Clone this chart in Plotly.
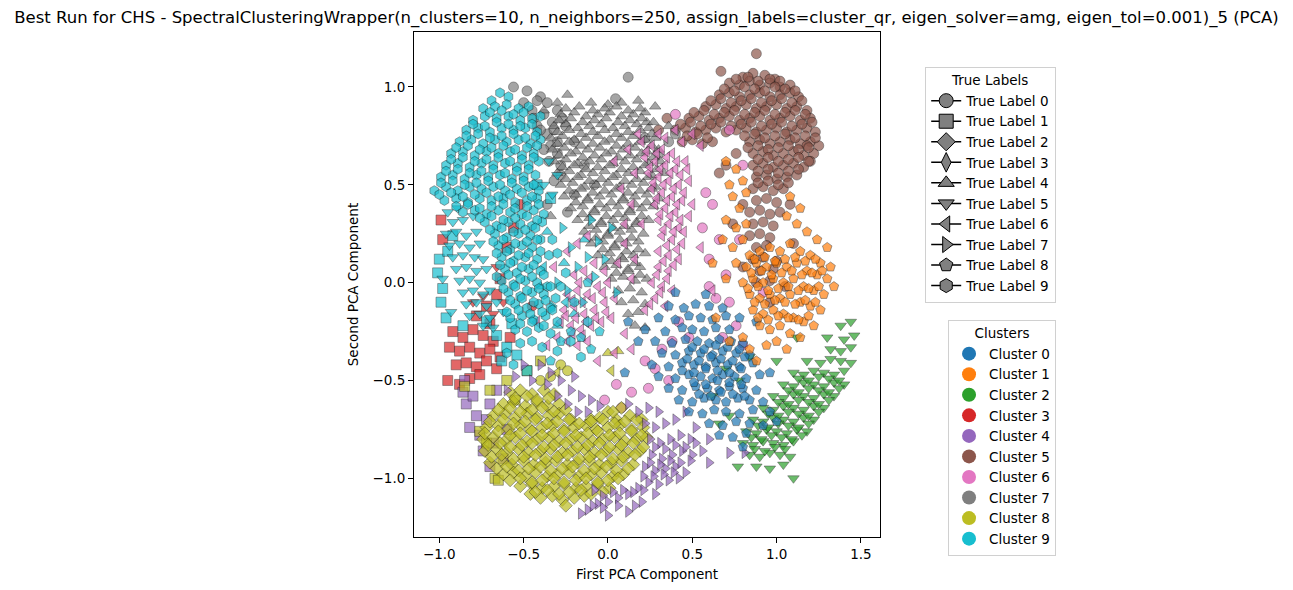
import plotly.graph_objects as go

# tab10 colours, one per cluster
cluster_colors = ['#1f77b4', '#ff7f0e', '#2ca02c', '#d62728', '#9467bd',
                  '#8c564b', '#e377c2', '#7f7f7f', '#bcbd22', '#17becf']
# marker per true label
label_symbols = ['circle', 'square', 'diamond', 'diamond-tall', 'triangle-up',
                 'triangle-down', 'triangle-left', 'triangle-right', 'pentagon', 'hexagon']

# ---- points, grouped by (cluster, true label) ----
c9_l9 = [(-0.64,0.97),(-0.59,0.95),(-0.69,0.93),
 (-0.74,0.89),(-0.67,0.90),(-0.60,0.91),(-0.53,0.89),(-0.47,0.90),
 (-0.80,0.83),(-0.73,0.85),(-0.66,0.84),(-0.59,0.85),(-0.52,0.83),(-0.45,0.84),(-0.40,0.85),
 (-0.84,0.78),(-0.77,0.79),(-0.70,0.77),(-0.63,0.79),(-0.56,0.78),(-0.49,0.79),(-0.42,0.77),
 (-0.88,0.72),(-0.81,0.73),(-0.74,0.71),(-0.67,0.73),(-0.60,0.72),(-0.53,0.73),(-0.46,0.71),(-0.40,0.73),
 (-0.93,0.66),(-0.86,0.67),(-0.79,0.65),(-0.72,0.67),(-0.65,0.66),(-0.58,0.67),(-0.51,0.65),(-0.44,0.66),
 (-0.96,0.60),(-0.89,0.61),(-0.82,0.59),(-0.75,0.61),(-0.68,0.60),(-0.61,0.61),(-0.54,0.59),(-0.47,0.60),(-0.41,0.62),
 (-0.99,0.54),(-0.92,0.55),(-0.85,0.53),(-0.78,0.55),(-0.71,0.54),(-0.64,0.55),(-0.57,0.53),(-0.50,0.54),(-0.43,0.55),
 (-1.03,0.47),(-0.96,0.49),(-0.89,0.47),(-0.82,0.49),(-0.75,0.48),(-0.68,0.49),(-0.61,0.47),(-0.54,0.48),(-0.47,0.49),(-0.41,0.47),
 (-0.97,0.42),(-0.90,0.43),(-0.83,0.41),(-0.76,0.43),(-0.69,0.42),(-0.62,0.43),(-0.55,0.41),(-0.48,0.42),(-0.42,0.43),
 (-0.86,0.36),(-0.79,0.37),(-0.72,0.35),(-0.65,0.37),(-0.58,0.36),(-0.51,0.35),(-0.44,0.37),(-0.38,0.35),
 (-0.73,0.31),(-0.66,0.29),(-0.59,0.31),(-0.52,0.30),(-0.45,0.29),(-0.39,0.31),
 (-0.67,0.25),(-0.60,0.23),(-0.53,0.25),(-0.46,0.24),(-0.40,0.22),
 (-0.65,0.19),(-0.58,0.17),(-0.51,0.19),(-0.45,0.18),
 (-0.63,0.13),(-0.56,0.11),(-0.49,0.13),(-0.42,0.12),(-0.35,0.14),
 (-0.61,0.07),(-0.54,0.05),(-0.47,0.07),(-0.40,0.06),
 (-0.63,0.01),(-0.56,-0.01),(-0.49,0.01),(-0.42,0.00),(-0.36,-0.02),
 (-0.59,-0.05),(-0.52,-0.07),(-0.45,-0.05),(-0.38,-0.06),(-0.31,-0.08),
 (-0.55,-0.11),(-0.48,-0.13),(-0.41,-0.11),(-0.34,-0.13),
 (-0.58,-0.18),(-0.51,-0.17),(-0.44,-0.19),(-0.37,-0.17),(-0.30,-0.20),
 (-0.55,-0.24),(-0.48,-0.25),(-0.41,-0.23),(-0.34,-0.26),
 (-0.52,-0.31),(-0.45,-0.30),(-0.39,-0.33),
 (-0.56,-0.42),(-0.60,-0.36),(-0.30,-0.35),(-0.22,-0.30),(-0.25,0.05),(-0.30,0.15),
 (-0.20,-0.10),(-0.12,-0.20),(-0.33,0.22),(-0.28,-0.02),(-0.16,-0.38)]
c9_l9_core = [(-0.70,0.87),(-0.63,0.88),(-0.56,0.86),(-0.50,0.87),
 (-0.80,0.81),(-0.73,0.80),(-0.66,0.82),(-0.59,0.81),(-0.52,0.80),(-0.45,0.81),
 (-0.84,0.75),(-0.77,0.76),(-0.70,0.74),(-0.63,0.75),(-0.56,0.76),(-0.49,0.74),(-0.43,0.75),
 (-0.90,0.69),(-0.83,0.70),(-0.76,0.68),(-0.69,0.69),(-0.62,0.70),(-0.55,0.68),(-0.48,0.69),(-0.42,0.70),
 (-0.93,0.63),(-0.86,0.64),(-0.79,0.62),(-0.72,0.63),(-0.65,0.64),(-0.58,0.62),(-0.51,0.63),(-0.44,0.64),
 (-0.96,0.57),(-0.89,0.58),(-0.82,0.56),(-0.75,0.57),(-0.68,0.58),(-0.61,0.56),(-0.54,0.57),(-0.47,0.58),
 (-0.99,0.51),(-0.92,0.52),(-0.85,0.50),(-0.78,0.51),(-0.71,0.52),(-0.64,0.50),(-0.57,0.51),(-0.50,0.52),(-0.44,0.50),
 (-1.00,0.45),(-0.93,0.46),(-0.86,0.44),(-0.79,0.45),(-0.72,0.46),(-0.65,0.44),(-0.58,0.45),(-0.51,0.46),(-0.45,0.44),
 (-0.90,0.39),(-0.83,0.40),(-0.76,0.38),(-0.69,0.39),(-0.62,0.40),(-0.55,0.38),(-0.48,0.39),(-0.41,0.40),
 (-0.76,0.33),(-0.69,0.34),(-0.62,0.32),(-0.55,0.33),(-0.48,0.34),(-0.42,0.32),
 (-0.70,0.27),(-0.63,0.28),(-0.56,0.26),(-0.49,0.27),(-0.43,0.28),
 (-0.68,0.21),(-0.62,0.22),(-0.55,0.20),(-0.48,0.21),(-0.42,0.22),
 (-0.66,0.15),(-0.60,0.16),(-0.53,0.14),(-0.47,0.15),(-0.40,0.16),
 (-0.64,0.09),(-0.58,0.10),(-0.51,0.08),(-0.44,0.09),
 (-0.66,0.03),(-0.59,0.04),(-0.52,0.02),(-0.45,0.03),(-0.38,0.04),
 (-0.62,-0.03),(-0.55,-0.02),(-0.48,-0.04),(-0.41,-0.03),(-0.34,-0.02),
 (-0.58,-0.09),(-0.51,-0.08),(-0.44,-0.10),(-0.37,-0.09),
 (-0.60,-0.15),(-0.53,-0.14),(-0.46,-0.16),(-0.39,-0.15),(-0.33,-0.14),
 (-0.52,-0.21),(-0.45,-0.20),(-0.38,-0.22)]
c9_l5 = [(-0.95,0.36),(-0.89,0.38),(-0.92,0.31),(-0.86,0.32),(-0.80,0.34),
 (-0.96,0.25),(-0.90,0.26),(-0.84,0.24),(-0.78,0.26),
 (-0.94,0.19),(-0.88,0.20),(-0.82,0.18),(-0.76,0.20),(-0.79,0.13),
 (-0.92,0.13),(-0.86,0.14),(-0.74,0.12),
 (-0.90,0.07),(-0.84,0.08),(-0.78,0.06),(-0.72,0.07),
 (-0.88,0.01),(-0.82,0.02),(-0.76,0.00),(-0.70,-0.04),
 (-0.86,-0.05),(-0.80,-0.04),(-0.74,-0.06),
 (-0.84,-0.11),(-0.78,-0.10),(-0.72,-0.12),(-0.66,-0.10),
 (-0.82,-0.17),(-0.76,-0.16),(-0.70,-0.18),
 (-0.74,-0.22),(-0.68,-0.23),(-0.93,-0.15),(-0.62,-0.15),(-0.98,0.02),
 (-0.35,0.62),(-0.30,0.55),(-0.33,0.45),(-0.38,0.50)]
c9_l1 = [(-1.00,0.12),(-1.01,0.05),(-0.98,-0.03),(-0.99,-0.10),(-0.95,0.16),(-0.96,-0.18),
 (-0.72,-0.20),(-0.66,-0.27),(-0.60,-0.33),(-0.57,-0.21),(-0.63,-0.40),(-0.54,-0.37),
 (-0.86,-0.22),(-0.42,0.50),(-0.34,0.43),(-0.48,-0.45),(-0.92,0.24)]
c9_l7 = [(-0.30,0.00),(-0.24,-0.04),(-0.18,0.08),(-0.22,0.18),(-0.12,0.13),(-0.06,0.21),(-0.27,0.28),
 (-0.15,-0.10),(-0.08,0.03),(-0.33,-0.12),(0.02,0.28),(-0.10,0.32),(0.05,-0.05),(-0.02,0.12)]
c9_l4 = [(-0.36,0.26),(-0.26,0.10),(-0.20,-0.16),(-0.40,-0.02),(-0.14,0.22),(-0.30,-0.22)]
c9_l8 = [(-0.22,-0.25),(-0.16,-0.28),(-0.10,-0.34),(-0.28,-0.30),(-0.05,-0.25),(-0.34,-0.40),(-0.12,0.00)]
c9_l6 = [(-0.25,-0.10),(-0.38,0.08)]

c3_l1 = [(-0.92,-0.25),(-0.86,-0.28),(-0.80,-0.24),(-0.74,-0.27),(-0.68,-0.30),
 (-0.94,-0.33),(-0.88,-0.35),(-0.82,-0.33),(-0.76,-0.36),(-0.70,-0.34),
 (-0.90,-0.42),(-0.84,-0.41),(-0.78,-0.43),(-0.72,-0.40),(-0.66,-0.44),
 (-0.82,-0.49),(-0.76,-0.47),(-0.64,-0.38),(-0.58,-0.28),(-0.70,-0.21),
 (-0.78,-0.17),(-0.72,-0.12),(-0.66,-0.06),(-0.64,0.02),(-0.99,0.32),(-0.98,0.22),
 (-0.56,0.28),(-0.60,0.18),(-0.95,-0.50),(-0.88,-0.52)]
c3_l5 = [(-0.68,-0.16),(-0.74,-0.07),(-0.62,-0.10),(-0.80,-0.10),(-0.66,0.08)]
c3_l0 = [(-0.52,0.40),(-0.45,-0.12)]

c4_l1 = [(-0.84,-0.62),(-0.80,-0.58),(-0.78,-0.68),(-0.82,-0.74),(-0.76,-0.78),(-0.72,-0.70),
 (-0.70,-0.62),(-0.74,-0.86),(-0.68,-0.82),(-0.86,-0.56),(-0.66,-0.55),(-0.62,-0.90),
 (-0.70,-0.94),(-0.85,-0.50),(-0.60,-0.75)]
c4_l7 = [(-0.40,-0.42),(-0.34,-0.46),(-0.28,-0.50),(-0.22,-0.55),(-0.16,-0.58),(-0.10,-0.60),
 (-0.30,-0.58),(-0.24,-0.62),(-0.18,-0.66),(-0.12,-0.66),(-0.05,-0.63),(-0.36,-0.52),
 (-0.20,-0.48),(-0.45,-0.50),(-0.55,-0.48),(-0.50,-0.42),(-0.60,-0.55),
 (0.12,-0.62),(0.18,-0.66),(0.24,-0.64),(0.30,-0.66),(0.22,-0.72),(0.28,-0.74),(0.34,-0.72),
 (0.40,-0.70),(0.25,-0.80),(0.31,-0.82),(0.37,-0.80),(0.43,-0.78),(0.49,-0.80),(0.26,-0.88),
 (0.32,-0.90),(0.38,-0.88),(0.44,-0.86),(0.50,-0.88),(0.56,-0.86),(0.22,-0.94),(0.28,-0.96),
 (0.34,-0.95),(0.40,-0.94),(0.46,-0.97),(0.24,-1.02),(0.30,-1.03),(0.36,-1.01),(0.42,-1.00),
 (0.18,-1.05),(0.12,-1.08),(0.06,-1.10),(0.00,-1.12),(-0.06,-1.13),(-0.12,-1.16),(-0.16,-1.18),
 (0.00,-1.19),(0.12,-1.17),(0.20,-1.12),(0.28,-1.08),(0.60,-0.92),(0.72,-0.87),(0.81,-0.87),
 (0.52,-0.74),(0.46,-0.66),(-0.08,-1.06),(0.60,-0.80),
 (0.28,-0.84),(0.34,-0.85),(0.40,-0.83),(0.46,-0.84),(0.52,-0.82),
 (0.25,-0.92),(0.31,-0.93),(0.37,-0.91),(0.43,-0.92),(0.49,-0.91),
 (0.21,-0.99),(0.27,-0.99),(0.33,-0.98),(0.39,-0.97),
 (0.09,-1.06),(0.15,-1.07),(0.21,-1.06),(0.03,-1.07),(-0.03,-1.09),
 (-0.09,-1.14),(-0.03,-1.15),(0.06,-1.14),(0.16,-1.14)]

c8_l2 = [(-0.58,-0.56),(-0.52,-0.55),(-0.45,-0.57),(-0.38,-0.55),(-0.32,-0.57),
 (-0.62,-0.62),(-0.56,-0.61),(-0.49,-0.63),(-0.42,-0.61),(-0.36,-0.63),(-0.29,-0.62),(-0.10,-0.70),(0.00,-0.66),(0.08,-0.64),
 (-0.68,-0.68),(-0.61,-0.67),(-0.55,-0.69),(-0.48,-0.67),(-0.42,-0.69),(-0.35,-0.68),(-0.29,-0.67),(-0.22,-0.70),(-0.05,-0.69),(0.05,-0.70),(0.13,-0.68),(0.20,-0.70),
 (-0.72,-0.74),(-0.65,-0.73),(-0.59,-0.75),(-0.52,-0.73),(-0.46,-0.75),(-0.39,-0.74),(-0.33,-0.73),(-0.26,-0.75),(-0.20,-0.74),(-0.13,-0.73),(-0.07,-0.75),(0.00,-0.74),(0.07,-0.73),(0.14,-0.75),(0.21,-0.74),
 (-0.74,-0.80),(-0.68,-0.79),(-0.61,-0.81),(-0.55,-0.79),(-0.48,-0.81),(-0.42,-0.80),(-0.35,-0.79),(-0.29,-0.81),(-0.22,-0.80),(-0.16,-0.79),(-0.09,-0.81),(-0.03,-0.80),(0.04,-0.79),(0.10,-0.81),(0.17,-0.80),(0.23,-0.79),
 (-0.73,-0.86),(-0.66,-0.85),(-0.60,-0.87),(-0.53,-0.85),(-0.47,-0.87),(-0.40,-0.86),(-0.34,-0.85),(-0.27,-0.87),(-0.21,-0.86),(-0.14,-0.85),(-0.08,-0.87),(-0.01,-0.86),(0.06,-0.85),(0.12,-0.87),(0.19,-0.86),
 (-0.70,-0.92),(-0.63,-0.91),(-0.57,-0.93),(-0.50,-0.91),(-0.44,-0.93),(-0.37,-0.92),(-0.31,-0.91),(-0.24,-0.93),(-0.18,-0.92),(-0.11,-0.91),(-0.05,-0.93),(0.02,-0.92),(0.08,-0.91),(0.15,-0.93),
 (-0.62,-0.98),(-0.56,-0.97),(-0.49,-0.99),(-0.43,-0.97),(-0.36,-0.99),(-0.30,-0.98),(-0.23,-0.97),(-0.17,-0.99),(-0.10,-0.98),(-0.04,-0.97),(0.03,-0.99),(0.09,-0.98),
 (-0.52,-1.04),(-0.45,-1.03),(-0.39,-1.05),(-0.32,-1.04),(-0.26,-1.03),(-0.19,-1.05),(-0.13,-1.04),(-0.06,-1.03),(0.01,-1.05),
 (-0.40,-1.10),(-0.33,-1.09),(-0.27,-1.11),(-0.20,-1.10),(-0.14,-1.09),(-0.25,-1.14),(-0.46,-1.08)]
c8_l2_core = [(-0.55,-0.59),(-0.48,-0.58),(-0.42,-0.60),(-0.35,-0.59),
 (-0.65,-0.65),(-0.58,-0.64),(-0.52,-0.66),(-0.45,-0.65),(-0.39,-0.64),(-0.32,-0.66),(-0.25,-0.65),(0.03,-0.66),
 (-0.70,-0.71),(-0.62,-0.70),(-0.56,-0.72),(-0.49,-0.71),(-0.43,-0.70),(-0.36,-0.72),(-0.30,-0.71),(-0.23,-0.70),(-0.17,-0.72),(-0.10,-0.71),(-0.03,-0.70),(0.04,-0.72),(0.10,-0.71),(0.17,-0.70),
 (-0.73,-0.77),(-0.65,-0.76),(-0.58,-0.78),(-0.52,-0.77),(-0.45,-0.76),(-0.39,-0.78),(-0.32,-0.77),(-0.26,-0.76),(-0.19,-0.78),(-0.12,-0.77),(-0.06,-0.76),(0.01,-0.78),(0.07,-0.77),(0.14,-0.76),(0.20,-0.78),
 (-0.71,-0.83),(-0.64,-0.82),(-0.58,-0.84),(-0.51,-0.83),(-0.45,-0.82),(-0.38,-0.84),(-0.32,-0.83),(-0.25,-0.82),(-0.18,-0.84),(-0.12,-0.83),(-0.05,-0.82),(0.01,-0.84),(0.08,-0.83),(0.15,-0.82),(0.21,-0.84),
 (-0.69,-0.89),(-0.63,-0.88),(-0.56,-0.90),(-0.50,-0.89),(-0.43,-0.88),(-0.37,-0.90),(-0.30,-0.89),(-0.24,-0.88),(-0.17,-0.90),(-0.11,-0.89),(-0.04,-0.88),(0.03,-0.90),(0.09,-0.89),(0.16,-0.88),
 (-0.66,-0.95),(-0.60,-0.94),(-0.53,-0.96),(-0.47,-0.95),(-0.40,-0.94),(-0.34,-0.96),(-0.27,-0.95),(-0.21,-0.94),(-0.14,-0.96),(-0.08,-0.95),(-0.01,-0.94),(0.05,-0.96),(0.12,-0.95),
 (-0.58,-1.01),(-0.52,-1.00),(-0.45,-1.02),(-0.39,-1.01),(-0.32,-1.00),(-0.26,-1.02),(-0.19,-1.01),(-0.13,-1.00),(-0.06,-1.02),(0.00,-1.01),(0.06,-1.00),
 (-0.43,-1.07),(-0.36,-1.06),(-0.29,-1.08),(-0.23,-1.07),(-0.16,-1.06),(-0.10,-1.08),(-0.03,-1.07)]
c8_l1 = [(-0.85,-0.53),(-0.72,-0.82),(-0.67,-1.00),(-0.65,-1.01),(-0.70,-0.55),(-0.60,-0.50),
 (-0.76,-0.76),(-0.55,-0.60),(-0.48,-0.45),(-0.40,-0.40)]
c8_l4 = [(0.00,-0.36),(0.06,-0.35)]
c8_l6 = [(0.02,-0.45),(-0.30,-0.46)]
c8_l0 = [(-0.28,-0.42),(-0.24,-0.45),(-0.34,-0.48),(-0.40,-0.50)]

c6_l6 = [(0.20,0.72),(0.26,0.70),(0.32,0.68),(0.38,0.66),(0.22,0.64),(0.28,0.62),(0.34,0.60),
 (0.40,0.58),(0.46,0.62),(0.24,0.56),(0.30,0.54),(0.36,0.52),(0.42,0.50),(0.26,0.48),(0.32,0.46),
 (0.38,0.44),(0.44,0.42),(0.28,0.40),(0.34,0.38),(0.40,0.36),(0.30,0.32),(0.36,0.30),(0.42,0.28),
 (0.48,0.34),(0.32,0.24),(0.38,0.22),(0.44,0.20),(0.30,0.16),(0.36,0.14),(0.42,0.12),(0.30,0.08),
 (0.36,0.06),(0.26,0.00),(0.32,-0.02),(0.38,-0.04),(0.28,-0.08),(0.34,-0.12),(0.22,-0.14),
 (0.45,0.26),(0.50,0.40),(0.55,0.18),(0.62,-0.04),(0.55,0.70),(0.50,0.76),(0.44,0.72),
 (-0.28,-0.20),(-0.22,-0.22),(-0.16,-0.24),(-0.10,-0.22),(-0.04,-0.20),(0.02,-0.18),(-0.26,-0.14),
 (-0.20,-0.12),(-0.14,-0.16),(-0.08,-0.14),(-0.02,-0.10),(0.04,-0.08),(-0.24,-0.06),(-0.18,-0.04),
 (-0.12,-0.06),(-0.06,-0.02),(0.00,0.00),(-0.20,0.04),(-0.14,0.06),(-0.08,0.10),(-0.02,0.06),
 (-0.24,0.16),(-0.18,0.20),(-0.12,0.24),(-0.30,-0.28),(-0.24,-0.30),(-0.18,-0.32),(-0.12,-0.30),
 (-0.36,-0.32),(-0.06,-0.40),(0.04,-0.36),(0.10,-0.26),(0.14,-0.34),(-0.42,-0.20),(-0.32,0.08),
 (0.08,0.48),(0.14,0.40),(0.10,0.30),(0.16,0.56),(0.04,0.62),(0.12,0.68),(0.18,0.76),(0.10,0.20),
 (0.16,0.12),(0.06,0.10),(0.20,0.30),(0.14,0.02),(0.30,0.76),(0.40,0.78),(0.34,0.74)]
c6_l6_core = [(0.23,0.67),(0.29,0.66),(0.35,0.64),(0.41,0.62),(0.25,0.59),(0.31,0.58),(0.37,0.56),
 (0.43,0.55),(0.27,0.51),(0.33,0.50),(0.39,0.48),(0.45,0.46),(0.29,0.43),(0.35,0.42),(0.41,0.40),
 (0.31,0.35),(0.37,0.34),(0.43,0.32),(0.33,0.27),(0.39,0.26),(0.35,0.19),(0.41,0.17),(0.33,0.11),
 (0.39,0.09),(0.29,0.04),(0.35,0.02),(0.31,-0.05),(0.25,-0.11),(0.48,0.52),(0.47,0.58),
 (-0.25,-0.17),(-0.19,-0.18),(-0.13,-0.20),(-0.07,-0.18),(-0.01,-0.15),(-0.21,-0.09),(-0.15,-0.10),
 (-0.09,-0.08),(-0.03,-0.05),(-0.17,0.00),(-0.11,0.02),(-0.21,-0.26),(-0.15,-0.27)]
c6_l0 = [(0.58,0.46),(0.62,0.40),(0.56,0.28),(0.66,0.22),(0.60,0.12),(0.70,0.04),(0.72,-0.10),
 (0.64,-0.08),(0.60,-0.02),(0.76,-0.22),(0.68,-0.28),(0.80,-0.32),(0.42,-0.20),(0.48,-0.28),
 (0.38,-0.30),(0.32,-0.34),(0.28,-0.44),(0.22,-0.40),(0.36,-0.50),(0.24,-0.54),(0.14,-0.56),
 (-0.02,-0.60),(0.08,-0.64),(0.80,0.60),(0.72,0.78),(0.40,0.86),(0.92,-0.05),(0.78,0.22),(0.05,-0.52)]

c7_l4 = [(-0.24,0.96),(-0.10,0.92),(0.00,0.91),(0.08,0.92),
 (-0.28,0.86),(-0.20,0.87),(-0.13,0.85),(-0.06,0.86),(0.01,0.87),(0.08,0.85),(0.15,0.86),(0.22,0.87),
 (-0.32,0.80),(-0.25,0.81),(-0.18,0.79),(-0.11,0.80),(-0.04,0.81),(0.03,0.79),(0.10,0.80),(0.17,0.81),(0.24,0.79),
 (-0.34,0.74),(-0.27,0.75),(-0.20,0.73),(-0.13,0.74),(-0.06,0.75),(0.01,0.73),(0.08,0.74),(0.15,0.75),(0.22,0.73),(0.28,0.74),
 (-0.33,0.68),(-0.26,0.69),(-0.19,0.67),(-0.12,0.68),(-0.05,0.69),(0.02,0.67),(0.09,0.68),(0.16,0.69),(0.23,0.67),(0.30,0.68),
 (-0.32,0.62),(-0.25,0.63),(-0.18,0.61),(-0.11,0.62),(-0.04,0.63),(0.03,0.61),(0.10,0.62),(0.17,0.63),(0.24,0.61),(0.31,0.62),
 (-0.30,0.56),(-0.23,0.57),(-0.16,0.55),(-0.09,0.56),(-0.02,0.57),(0.05,0.55),(0.12,0.56),(0.19,0.57),(0.26,0.55),(0.33,0.56),
 (-0.28,0.50),(-0.21,0.51),(-0.14,0.49),(-0.07,0.50),(0.00,0.51),(0.07,0.49),(0.14,0.50),(0.21,0.51),(0.28,0.49),
 (-0.26,0.44),(-0.19,0.45),(-0.12,0.43),(-0.05,0.44),(0.02,0.45),(0.09,0.43),(0.16,0.44),(0.23,0.45),(0.30,0.43),
 (-0.22,0.38),(-0.15,0.39),(-0.08,0.37),(-0.01,0.38),(0.06,0.39),(0.13,0.37),(0.20,0.38),(0.27,0.39),
 (-0.18,0.32),(-0.11,0.33),(-0.04,0.31),(0.03,0.32),(0.10,0.33),(0.17,0.31),(0.24,0.32),
 (-0.14,0.26),(-0.07,0.27),(0.00,0.25),(0.07,0.26),(0.14,0.27),(0.21,0.25),
 (-0.10,0.20),(-0.03,0.21),(0.04,0.19),(0.11,0.20),(0.18,0.21),
 (-0.06,0.14),(0.01,0.15),(0.08,0.13),(0.15,0.14),(0.22,0.15),
 (-0.02,0.08),(0.05,0.09),(0.12,0.07),(0.19,0.08),
 (0.02,0.02),(0.09,0.03),(0.16,0.01),(0.23,0.02),
 (0.06,-0.04),(0.13,-0.03),(0.20,-0.05),
 (0.08,-0.10),(0.15,-0.09),(0.22,-0.11),
 (0.12,-0.16),(0.18,-0.15),(0.16,-0.22),(0.22,-0.23),
 (-0.38,0.88),(-0.30,0.92),(0.18,0.93),(0.28,0.90),(0.23,0.82),(0.36,0.80),(-0.34,0.34)]
c7_l4_core = [(-0.25,0.89),(-0.17,0.90),(-0.09,0.88),(-0.02,0.89),(0.05,0.90),(0.12,0.88),(0.19,0.89),
 (-0.29,0.83),(-0.22,0.84),(-0.15,0.82),(-0.08,0.83),(-0.01,0.84),(0.06,0.82),(0.13,0.83),(0.20,0.84),(0.27,0.82),
 (-0.30,0.77),(-0.23,0.78),(-0.16,0.76),(-0.09,0.77),(-0.02,0.78),(0.05,0.76),(0.12,0.77),(0.19,0.78),(0.26,0.76),
 (-0.30,0.71),(-0.23,0.72),(-0.16,0.70),(-0.09,0.71),(-0.02,0.72),(0.05,0.70),(0.12,0.71),(0.19,0.72),(0.26,0.70),
 (-0.29,0.65),(-0.22,0.66),(-0.15,0.64),(-0.08,0.65),(-0.01,0.66),(0.06,0.64),(0.13,0.65),(0.20,0.66),(0.27,0.64),
 (-0.27,0.59),(-0.20,0.60),(-0.13,0.58),(-0.06,0.59),(0.01,0.60),(0.08,0.58),(0.15,0.59),(0.22,0.60),(0.29,0.58),
 (-0.25,0.53),(-0.18,0.54),(-0.11,0.52),(-0.04,0.53),(0.03,0.54),(0.10,0.52),(0.17,0.53),(0.24,0.54),
 (-0.23,0.47),(-0.16,0.48),(-0.09,0.46),(-0.02,0.47),(0.05,0.48),(0.12,0.46),(0.19,0.47),(0.26,0.48),
 (-0.19,0.41),(-0.12,0.42),(-0.05,0.40),(0.02,0.41),(0.09,0.42),(0.16,0.40),(0.23,0.41),
 (-0.15,0.35),(-0.08,0.36),(-0.01,0.34),(0.06,0.35),(0.13,0.36),(0.20,0.34),
 (-0.11,0.29),(-0.04,0.30),(0.03,0.28),(0.10,0.29),(0.17,0.30),
 (-0.07,0.23),(0.00,0.24),(0.07,0.22),(0.14,0.23),
 (-0.03,0.17),(0.04,0.18),(0.11,0.16),(0.18,0.17),
 (0.02,0.11),(0.09,0.12),(0.16,0.10),
 (0.05,0.05),(0.12,0.06),(0.19,0.04)]
c7_l0 = [(-0.56,1.00),(-0.48,0.98),(-0.40,0.95),(-0.45,0.88),(-0.38,0.86),(-0.33,0.82),(-0.42,0.80),
 (-0.36,0.76),(-0.30,0.72),(0.12,1.05),(0.045,0.94),(-0.50,0.92),(-0.30,0.88),(-0.25,0.80),
 (-0.20,0.72),(0.22,0.74),(0.36,0.72),(0.40,0.76),(-0.35,0.62),(-0.28,0.55),(-0.20,0.45),
 (-0.14,0.60),(-0.08,0.50),(-0.24,0.36),(-0.36,0.40),(0.30,0.66),
 (-0.44,0.84),(-0.40,0.78),(-0.34,0.70),(-0.30,0.66),(-0.38,0.68),(-0.32,0.78),(-0.27,0.84),
 (-0.36,0.92),(-0.42,0.93),(-0.28,0.60),(-0.32,0.52)]

c5_l0 = [(0.80,1.05),(0.86,1.07),(0.93,1.06),(0.99,1.04),
 (0.72,1.02),(0.78,1.01),(0.84,1.03),(0.90,1.01),(0.96,1.02),(1.02,1.00),(1.08,1.01),
 (0.66,0.96),(0.72,0.97),(0.78,0.95),(0.84,0.96),(0.90,0.97),(0.96,0.95),(1.02,0.96),(1.08,0.97),(1.13,0.95),
 (0.58,0.90),(0.64,0.91),(0.70,0.89),(0.76,0.90),(0.82,0.91),(0.88,0.89),(0.94,0.90),(1.00,0.91),(1.06,0.89),(1.12,0.90),(1.18,0.88),
 (0.48,0.84),(0.54,0.85),(0.60,0.83),(0.66,0.84),(0.72,0.85),(0.78,0.83),(0.84,0.84),(0.90,0.85),(0.96,0.83),(1.02,0.84),(1.08,0.85),(1.14,0.83),(1.20,0.84),
 (0.40,0.78),(0.46,0.79),(0.52,0.77),(0.58,0.78),(0.64,0.79),(0.70,0.77),(0.76,0.78),(0.82,0.79),(0.88,0.77),(0.94,0.78),(1.00,0.79),(1.06,0.77),(1.12,0.78),(1.18,0.79),(1.23,0.77),
 (0.44,0.72),(0.50,0.73),(0.56,0.71),(0.62,0.72),(0.84,0.72),(0.90,0.73),(0.96,0.71),(1.02,0.72),(1.08,0.73),(1.14,0.71),(1.20,0.72),(1.25,0.70),
 (0.86,0.66),(0.92,0.67),(0.98,0.65),(1.04,0.66),(1.10,0.67),(1.16,0.65),(1.22,0.66),
 (0.86,0.60),(0.92,0.61),(0.98,0.59),(1.04,0.60),(1.10,0.61),(1.16,0.59),
 (0.88,0.54),(0.94,0.55),(1.00,0.53),(1.06,0.54),(1.12,0.55),
 (0.86,0.48),(0.92,0.49),(0.98,0.47),(1.04,0.48),
 (0.88,0.42),(0.94,0.43),(1.00,0.41),
 (0.84,0.36),(0.90,0.37),(0.96,0.35),(1.02,0.36),
 (0.86,0.30),(0.92,0.31),(0.98,0.29),
 (0.84,0.24),(0.90,0.25),(0.96,0.23),
 (0.88,0.18),(0.94,0.19),
 (0.86,0.12),(0.92,0.13),(1.00,0.11),
 (0.90,0.06),(0.98,0.07),
 (0.88,0.00),(0.96,0.01),
 (0.88,1.17),(0.67,1.08),(1.20,0.62),(1.18,0.70),(0.76,0.66),(0.70,0.60),(0.66,0.56),
 (0.80,0.40),(0.74,0.30),(1.08,0.40),(1.10,0.20),(0.80,0.08),(0.96,-0.10),(1.05,-0.02),
 (0.35,0.84),(0.30,0.78)]
c5_l0_core = [(0.76,1.04),(0.83,1.05),(0.89,1.03),(0.96,1.04),(1.02,1.03),
 (0.69,0.99),(0.75,0.98),(0.81,1.00),(0.87,0.99),(0.93,0.98),(0.99,1.00),(1.05,0.99),(1.11,0.98),
 (0.61,0.93),(0.67,0.94),(0.73,0.92),(0.79,0.93),(0.85,0.94),(0.91,0.92),(0.97,0.93),(1.03,0.94),(1.09,0.92),(1.15,0.93),
 (0.51,0.87),(0.57,0.88),(0.63,0.86),(0.69,0.87),(0.75,0.88),(0.81,0.86),(0.87,0.87),(0.93,0.88),(0.99,0.86),(1.05,0.87),(1.11,0.88),(1.17,0.86),
 (0.43,0.81),(0.49,0.82),(0.55,0.80),(0.61,0.81),(0.67,0.82),(0.73,0.80),(0.79,0.81),(0.85,0.82),(0.91,0.80),(0.97,0.81),(1.03,0.82),(1.09,0.80),(1.15,0.81),(1.21,0.82),
 (0.47,0.75),(0.53,0.76),(0.59,0.74),(0.81,0.75),(0.87,0.76),(0.93,0.74),(0.99,0.75),(1.05,0.76),(1.11,0.74),(1.17,0.75),(1.23,0.74),
 (0.83,0.69),(0.89,0.70),(0.95,0.68),(1.01,0.69),(1.07,0.70),(1.13,0.68),(1.19,0.69),
 (0.89,0.63),(0.95,0.64),(1.01,0.62),(1.07,0.63),(1.13,0.64),(1.19,0.62),
 (0.89,0.57),(0.95,0.58),(1.01,0.56),(1.07,0.57),(1.13,0.58),
 (0.89,0.51),(0.95,0.52),(1.01,0.50),(1.07,0.51)]

c1_l8 = [(0.70,0.62),(0.76,0.58),(0.72,0.50),(0.80,0.52),(0.74,0.44),(0.82,0.46),(0.78,0.38),
 (0.70,0.32),(0.76,0.28),(0.68,0.22),(0.74,0.18),(0.82,0.30),(0.80,0.22),(1.08,0.44),(1.14,0.38),
 (1.06,0.34),(1.12,0.30),(1.18,0.26),(1.24,0.22),(1.30,0.18),
 (0.84,0.14),(0.90,0.16),(0.96,0.18),(1.02,0.16),(1.08,0.20),(1.14,0.16),(1.20,0.14),(1.26,0.10),(1.32,0.08),
 (0.82,0.08),(0.88,0.10),(0.94,0.08),(1.00,0.10),(1.06,0.08),(1.12,0.10),(1.18,0.06),(1.24,0.04),(1.30,0.02),
 (0.80,0.00),(0.86,0.02),(0.92,0.00),(0.98,0.02),(1.04,0.00),(1.10,0.02),(1.16,-0.02),(1.22,-0.04),(1.28,-0.06),
 (0.84,-0.06),(0.90,-0.08),(0.96,-0.06),(1.02,-0.08),(1.08,-0.06),(1.14,-0.10),(1.20,-0.12),(1.26,-0.14),
 (0.86,-0.14),(0.92,-0.16),(0.98,-0.14),(1.04,-0.16),(1.10,-0.18),(1.16,-0.20),(1.22,-0.22),
 (0.90,-0.22),(0.96,-0.24),(1.02,-0.22),(1.08,-0.26),(1.14,-0.28),
 (1.00,-0.30),(1.06,-0.34),(0.94,-0.32),(0.80,-0.28),(0.72,-0.30),(0.88,-0.40),(0.84,-0.34),
 (0.62,0.10),(0.64,-0.18),(1.34,-0.02),(0.76,0.10),(0.70,0.02),
 (0.87,0.12),(0.93,0.13),(0.99,0.11),(1.05,0.12),(1.11,0.13),(1.17,0.11),(1.23,0.12),
 (0.85,0.05),(0.91,0.06),(0.97,0.04),(1.03,0.05),(1.09,0.06),(1.15,0.04),(1.21,0.05),(1.27,0.06),
 (0.83,-0.03),(0.89,-0.02),(0.95,-0.04),(1.01,-0.03),(1.07,-0.02),(1.13,-0.04),(1.19,-0.03),(1.25,-0.02),
 (0.87,-0.10),(0.93,-0.11),(0.99,-0.09),(1.05,-0.10),(1.11,-0.11),(1.17,-0.09),(1.23,-0.10),
 (0.89,-0.18),(0.95,-0.19),(1.01,-0.17),(1.07,-0.18),(1.13,-0.19),(1.19,-0.17)]

c0_l8 = [(0.36,-0.12),(0.45,-0.13),(0.52,-0.11),(0.60,-0.12),(0.68,-0.13),
 (0.30,-0.18),(0.40,-0.19),(0.48,-0.17),(0.55,-0.18),(0.62,-0.19),(0.70,-0.17),(0.78,-0.18),
 (0.22,-0.24),(0.34,-0.25),(0.44,-0.23),(0.50,-0.24),(0.57,-0.25),(0.64,-0.23),(0.72,-0.24),
 (0.28,-0.30),(0.38,-0.31),(0.46,-0.29),(0.53,-0.30),(0.60,-0.31),(0.66,-0.29),(0.73,-0.30),(0.80,-0.31),
 (0.32,-0.36),(0.40,-0.37),(0.48,-0.35),(0.55,-0.36),(0.62,-0.37),(0.68,-0.35),(0.76,-0.36),(0.84,-0.37),
 (0.26,-0.42),(0.36,-0.43),(0.44,-0.41),(0.51,-0.42),(0.58,-0.43),(0.64,-0.41),(0.71,-0.42),(0.78,-0.43),(0.86,-0.41),
 (0.30,-0.48),(0.40,-0.49),(0.48,-0.47),(0.55,-0.48),(0.62,-0.49),(0.68,-0.47),(0.75,-0.48),(0.82,-0.49),(0.90,-0.47),
 (0.36,-0.54),(0.44,-0.55),(0.52,-0.53),(0.59,-0.54),(0.66,-0.55),(0.72,-0.53),(0.80,-0.54),(0.88,-0.55),
 (0.42,-0.60),(0.50,-0.61),(0.57,-0.59),(0.64,-0.60),(0.70,-0.61),(0.77,-0.59),(0.84,-0.60),(0.92,-0.61),
 (0.48,-0.66),(0.56,-0.67),(0.63,-0.65),(0.70,-0.66),(0.78,-0.67),(0.86,-0.65),(0.96,-0.66),
 (0.60,-0.72),(0.68,-0.73),(0.76,-0.71),(0.84,-0.72),(0.92,-0.73),(1.00,-0.71),
 (0.66,-0.78),(0.74,-0.79),(0.82,-0.77),
 (0.12,-0.20),(0.18,-0.30),(0.10,-0.46),(0.88,-0.20),(0.96,-0.46),(0.80,-0.84),(0.58,-0.06),(0.40,-0.05),
 (0.50,-0.33),(0.57,-0.34),(0.64,-0.32),(0.71,-0.33),(0.78,-0.34),
 (0.47,-0.39),(0.54,-0.40),(0.61,-0.38),(0.67,-0.39),(0.74,-0.40),(0.81,-0.38),
 (0.44,-0.45),(0.51,-0.46),(0.58,-0.44),(0.65,-0.45),(0.72,-0.46),(0.79,-0.44),
 (0.51,-0.51),(0.58,-0.52),(0.65,-0.50),(0.72,-0.51),(0.79,-0.52),
 (0.54,-0.57),(0.61,-0.58),(0.67,-0.56),(0.74,-0.57),(0.81,-0.58)]

c2_l5 = [(1.38,-0.22),(1.44,-0.20),
 (1.30,-0.28),(1.40,-0.29),(1.46,-0.27),
 (1.32,-0.34),(1.38,-0.35),(1.44,-0.33),
 (1.18,-0.40),(1.26,-0.41),(1.32,-0.39),(1.38,-0.40),(1.44,-0.41),
 (1.10,-0.46),(1.16,-0.47),(1.22,-0.45),(1.28,-0.46),(1.34,-0.47),(1.40,-0.45),
 (1.04,-0.52),(1.10,-0.53),(1.16,-0.51),(1.22,-0.52),(1.28,-0.53),(1.34,-0.51),(1.40,-0.52),
 (0.98,-0.58),(1.04,-0.59),(1.10,-0.57),(1.16,-0.58),(1.22,-0.59),(1.28,-0.57),(1.34,-0.58),
 (0.92,-0.64),(0.98,-0.65),(1.04,-0.63),(1.10,-0.64),(1.16,-0.65),(1.22,-0.63),(1.28,-0.64),
 (0.86,-0.70),(0.92,-0.71),(0.98,-0.69),(1.04,-0.70),(1.10,-0.71),(1.16,-0.69),(1.22,-0.70),
 (0.82,-0.76),(0.88,-0.77),(0.94,-0.75),(1.00,-0.76),(1.06,-0.77),(1.12,-0.75),(1.18,-0.76),
 (0.80,-0.82),(0.86,-0.83),(0.92,-0.81),(0.98,-0.82),(1.04,-0.83),(1.10,-0.81),
 (0.84,-0.88),(0.90,-0.89),(0.96,-0.87),(1.02,-0.88),(1.08,-0.89),
 (0.88,-0.94),(0.96,-0.95),(1.04,-0.93),
 (1.10,-1.00),(0.77,-0.94),(0.66,-0.72),(0.72,-0.68),(0.62,-0.58),(0.70,-0.44),(1.12,-0.28),
 (0.84,-0.38),(0.78,-0.50),(1.00,-0.40),
 (1.13,-0.49),(1.19,-0.50),(1.25,-0.48),(1.31,-0.49),(1.37,-0.50),
 (1.07,-0.55),(1.13,-0.56),(1.19,-0.54),(1.25,-0.55),(1.31,-0.56),(1.37,-0.54),
 (1.01,-0.61),(1.07,-0.62),(1.13,-0.60),(1.19,-0.61),(1.25,-0.62),(1.31,-0.60),
 (0.95,-0.67),(1.01,-0.68),(1.07,-0.66),(1.13,-0.67),(1.19,-0.68),(1.25,-0.66),
 (0.89,-0.73),(0.95,-0.74),(1.01,-0.72),(1.07,-0.73),(1.13,-0.74),(1.19,-0.72),
 (0.85,-0.79),(0.91,-0.80),(0.97,-0.78),(1.03,-0.79),(1.09,-0.80),(1.15,-0.78),
 (0.87,-0.85),(0.93,-0.86),(0.99,-0.84),(1.05,-0.85)]

# (cluster, true label, points)
groups = [
    (0, 8, c0_l8), (1, 8, c1_l8), (2, 5, c2_l5), (3, 1, c3_l1), (3, 5, c3_l5), (3, 0, c3_l0),
    (4, 1, c4_l1), (4, 7, c4_l7), (5, 0, c5_l0), (5, 0, c5_l0_core),
    (6, 6, c6_l6), (6, 6, c6_l6_core), (6, 0, c6_l0),
    (7, 4, c7_l4), (7, 4, c7_l4_core), (7, 0, c7_l0), (8, 2, c8_l2), (8, 2, c8_l2_core),
    (8, 1, c8_l1), (8, 4, c8_l4), (8, 6, c8_l6), (8, 0, c8_l0),
    (9, 9, c9_l9), (9, 9, c9_l9_core), (9, 5, c9_l5), (9, 1, c9_l1), (9, 7, c9_l7), (9, 4, c9_l4),
    (9, 8, c9_l8), (9, 6, c9_l6),
]

FONT = 'DejaVu Sans'
fig = go.Figure()

# one scatter per true label (marker shape), coloured by cluster
for label in range(10):
    xs, ys, cols = [], [], []
    for cl, lb, pts in groups:
        if lb != label:
            continue
        for x, y in pts:
            xs.append(x)
            ys.append(y)
            cols.append(cluster_colors[cl])
    if not xs:
        continue
    fig.add_trace(go.Scatter(
        x=xs, y=ys, mode='markers', showlegend=False, hoverinfo='skip',
        marker=dict(symbol=label_symbols[label], color=cols, size=10, opacity=0.7,
                    line=dict(color='black', width=0.5))))

# legend entries
for label in range(10):
    fig.add_trace(go.Scatter(
        x=[None], y=[None], mode='lines+markers', name=f'True Label {label}', legend='legend',
        line=dict(color='black', width=1.5),
        marker=dict(symbol=label_symbols[label], color='gray', size=14,
                    line=dict(color='black', width=1))))
for cl in range(10):
    fig.add_trace(go.Scatter(
        x=[None], y=[None], mode='markers', name=f'Cluster {cl}', legend='legend2',
        marker=dict(symbol='circle', color=cluster_colors[cl], size=14)))

axis_style = dict(showline=True, mirror=True, linecolor='black', linewidth=1,
                  ticks='outside', ticklen=5, tickcolor='black', showgrid=False,
                  zeroline=False, tickfont=dict(size=13.5, color='black'), tickformat='.1f')

fig.update_layout(
    width=1293, height=590,
    margin=dict(l=414, r=413, t=32, b=53, autoexpand=False),
    paper_bgcolor='white', plot_bgcolor='white',
    font=dict(family=FONT, size=13.5, color='black'),
    title=dict(text='Best Run for CHS - SpectralClusteringWrapper(n_clusters=10, n_neighbors=250, '
                    'assign_labels=cluster_qr, eigen_solver=amg, eigen_tol=0.001)_5 (PCA)',
               x=0.5, xanchor='center', y=0.97, yanchor='middle',
               font=dict(size=16.5, color='black')),
    xaxis=dict(range=[-1.15, 1.613], tickvals=[-1.0, -0.5, 0.0, 0.5, 1.0, 1.5],
               title=dict(text='First PCA Component', font=dict(size=13.5), standoff=8),
               **axis_style),
    yaxis=dict(range=[-1.30, 1.281], tickvals=[-1.0, -0.5, 0.0, 0.5, 1.0],
               title=dict(text='Second PCA Component', font=dict(size=13.5), standoff=10),
               **axis_style),
    legend=dict(x=1.097, y=0.931, xanchor='left', yanchor='top',
                title=dict(text='True Labels', side='top center', font=dict(size=13.5)),
                bordercolor='#d0d0d0', borderwidth=1, bgcolor='white',
                font=dict(size=13.5), itemsizing='trace'),
    legend2=dict(x=1.146, y=0.43, xanchor='left', yanchor='top',
                 title=dict(text='Clusters', side='top center', font=dict(size=13.5)),
                 bordercolor='#d0d0d0', borderwidth=1, bgcolor='white',
                 font=dict(size=13.5), itemsizing='trace'),
)

# drop the browser's default page margin so the figure sits at the window origin
fig.write_html('out.html', config={'displayModeBar': False},
               post_script="document.body.style.margin='0';")
